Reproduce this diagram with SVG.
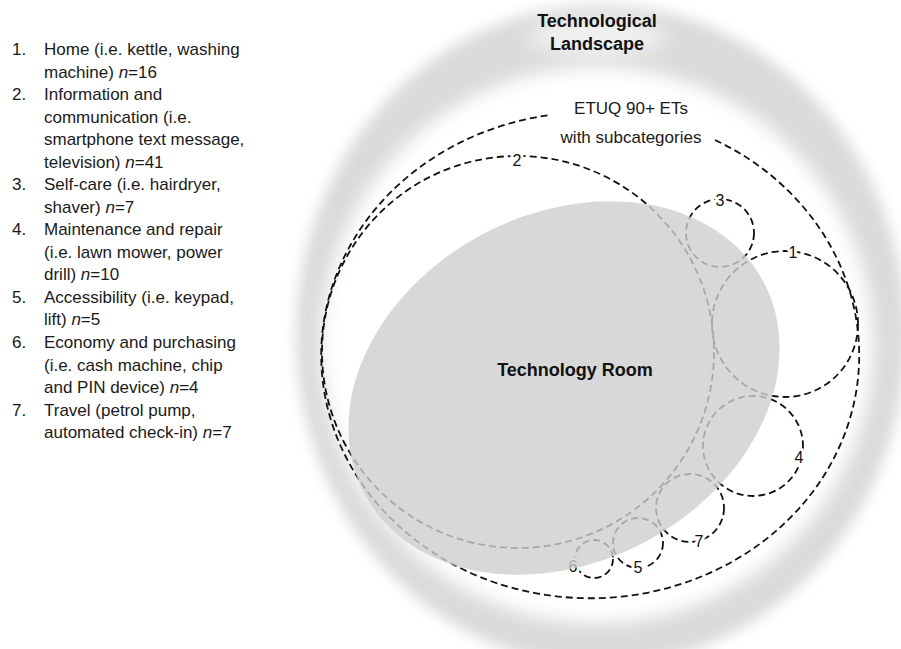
<svg xmlns="http://www.w3.org/2000/svg" width="901" height="649" viewBox="0 0 901 649">
  <defs>
    <filter id="blurOuter" filterUnits="userSpaceOnUse" x="-100" y="-100" width="1100" height="900">
      <feGaussianBlur stdDeviation="7"/>
    </filter>
    <filter id="blurInner" filterUnits="userSpaceOnUse" x="-100" y="-100" width="1100" height="900">
      <feGaussianBlur stdDeviation="9"/>
    </filter>
    <filter id="blurHalo" filterUnits="userSpaceOnUse" x="400" y="-100" width="400" height="250">
      <feGaussianBlur stdDeviation="10"/>
    </filter>
  </defs>
  <style>
    .list{font-family:"Liberation Sans",Arial,sans-serif;font-size:17px;fill:#1a1a1a}
    .num{font-family:"Liberation Sans",Arial,sans-serif;font-size:17px;fill:#1a1a1a}
    .title{font-family:"Liberation Sans",Arial,sans-serif;font-size:18px;font-weight:bold;fill:#111;text-anchor:middle}
    .sub{font-family:"Liberation Sans",Arial,sans-serif;font-size:17px;fill:#1a1a1a;text-anchor:middle}
    .dash{fill:none;stroke:#111;stroke-width:1.8;stroke-dasharray:7 4}
    .lbl{font-family:"Liberation Sans",Arial,sans-serif;font-size:16px;fill:#111;text-anchor:middle;stroke:#fff;stroke-width:6;stroke-linejoin:round;paint-order:stroke fill}
    .room{fill:#cecece;fill-opacity:0.8}
  </style>

  <rect x="0" y="0" width="901" height="649" fill="#fff"/>

  <!-- Technological landscape glow -->
  <g id="landscape">
    <ellipse cx="601" cy="335" rx="305" ry="330" fill="#dadada" filter="url(#blurOuter)"/>
    <ellipse cx="597" cy="345" rx="276" ry="278" fill="#fff" filter="url(#blurInner)"/>
    <ellipse cx="597" cy="37" rx="70" ry="20" fill="#fff" fill-opacity="0.6" filter="url(#blurHalo)"/>
    <text class="title" x="597" y="27">Technological</text>
    <text class="title" x="597" y="50">Landscape</text>
  </g>

  <!-- Legend list -->
  <g id="legend">
    <text class="num" x="12" y="55">1.</text>
    <text class="list" x="44" y="55">Home (i.e. kettle, washing</text>
    <text class="list" x="44" y="77.5">machine) <tspan font-style="italic">n</tspan>=16</text>
    <text class="num" x="12" y="100">2.</text>
    <text class="list" x="44" y="100">Information and</text>
    <text class="list" x="44" y="122.5">communication (i.e.</text>
    <text class="list" x="44" y="145">smartphone text message,</text>
    <text class="list" x="44" y="167.5">television) <tspan font-style="italic">n</tspan>=41</text>
    <text class="num" x="12" y="190">3.</text>
    <text class="list" x="44" y="190">Self-care (i.e. hairdryer,</text>
    <text class="list" x="44" y="212.5">shaver) <tspan font-style="italic">n</tspan>=7</text>
    <text class="num" x="12" y="235">4.</text>
    <text class="list" x="44" y="235">Maintenance and repair</text>
    <text class="list" x="44" y="257.5">(i.e. lawn mower, power</text>
    <text class="list" x="44" y="280">drill) <tspan font-style="italic">n</tspan>=10</text>
    <text class="num" x="12" y="302.5">5.</text>
    <text class="list" x="44" y="302.5">Accessibility (i.e. keypad,</text>
    <text class="list" x="44" y="325">lift) <tspan font-style="italic">n</tspan>=5</text>
    <text class="num" x="12" y="348">6.</text>
    <text class="list" x="44" y="348">Economy and purchasing</text>
    <text class="list" x="44" y="370.5">(i.e. cash machine, chip</text>
    <text class="list" x="44" y="393">and PIN device) <tspan font-style="italic">n</tspan>=4</text>
    <text class="num" x="12" y="415.5">7.</text>
    <text class="list" x="44" y="415.5">Travel (petrol pump,</text>
    <text class="list" x="44" y="438">automated check-in) <tspan font-style="italic">n</tspan>=7</text>
  </g>

  <!-- ETUQ set -->
  <g id="etuq">
    <path class="dash" d="M 715 140 A 269 243 0 1 1 550 115"/>
    <text class="sub" x="631" y="114">ETUQ 90+ ETs</text>
    <text class="sub" x="631" y="143">with subcategories</text>
  </g>

  <!-- Subcategory circles -->
  <g id="cat2">
    <circle class="dash" cx="518" cy="352" r="196"/>
    <text class="lbl" x="517" y="165.5">2</text>
  </g>
  <g id="cat3">
    <circle class="dash" cx="720" cy="233" r="34"/>
    <text class="lbl" x="720" y="205.5">3</text>
  </g>
  <g id="cat1">
    <circle class="dash" cx="785" cy="324" r="73"/>
    <text class="lbl" x="793" y="257.5">1</text>
  </g>
  <g id="cat4">
    <circle class="dash" cx="753" cy="446" r="50"/>
    <text class="lbl" x="799" y="462.5">4</text>
  </g>
  <g id="cat7">
    <circle class="dash" cx="690" cy="508" r="34"/>
    <text class="lbl" x="699" y="546.5">7</text>
  </g>
  <g id="cat5">
    <circle class="dash" cx="638" cy="543" r="25"/>
    <text class="lbl" x="638" y="572.5">5</text>
  </g>
  <g id="cat6">
    <circle class="dash" cx="594" cy="559" r="19"/>
    <text class="lbl" x="573" y="571.5">6</text>
  </g>

  <!-- Technology Room -->
  <g id="room">
    <ellipse class="room" cx="564" cy="388" rx="226" ry="174" transform="rotate(-28 564 388)"/>
    <text class="title" x="575" y="376">Technology Room</text>
  </g>
</svg>
